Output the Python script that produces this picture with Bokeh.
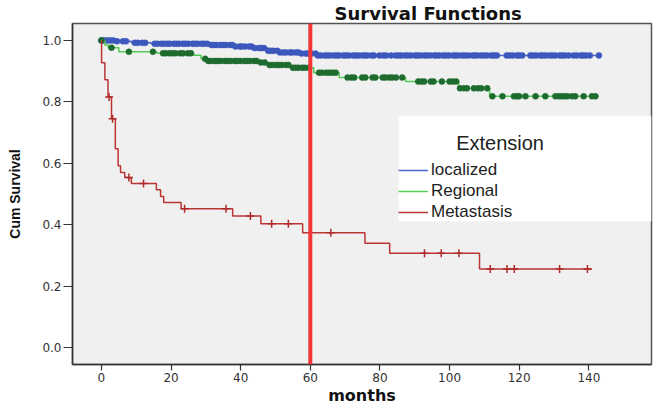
import numpy as np
from bokeh.plotting import figure
from bokeh.models import (Span, BoxAnnotation, Label, Legend, LegendItem, Range1d,
                          FixedTicker, PrintfTickFormatter)
from bokeh.embed import file_html
from bokeh.resources import INLINE

# ---- data ----
x_ticks = [0, 20, 40, 60, 80, 100, 120, 140]
y_ticks = [0.0, 0.2, 0.4, 0.6, 0.8, 1.0]

loc_t = [0, 3.8, 8.6, 14.3, 30.6, 38.0, 44.0, 47.8, 50.6, 57.0, 62.0]
loc_s = [1.0, 0.997, 0.992, 0.989, 0.985, 0.980, 0.975, 0.966, 0.961, 0.957, 0.951]
loc_end = 143.3
loc_cens = [0.0, 0.4, 1.1, 1.9, 2.6, 3.4, 4.5, 6.2, 7.1, 9.6, 10.5, 11.8, 12.6, 15.3, 16.1,
            17.2, 18.0, 18.9, 19.6, 20.8, 21.5, 22.3, 23.4, 24.1, 25.0, 26.2, 26.9, 27.7,
            28.8, 29.5, 30.4, 31.6, 32.3, 33.1, 34.2, 35.0, 35.7, 36.9, 37.6, 38.5, 39.7,
            40.3, 41.2, 42.4, 43.1, 44.0, 45.2, 45.9, 46.7, 47.9, 48.6, 49.4, 50.5, 51.3,
            52.2, 53.0, 54.1, 54.8, 55.9, 56.6, 57.5, 58.7, 59.4, 60.3, 61.5, 62.2, 63.0,
            64.1, 64.9, 65.7, 66.8, 67.6, 68.3, 69.5, 70.2, 71.1, 72.3, 73.0, 73.8, 74.9,
            75.7, 76.4, 77.6, 78.3, 79.9, 81.0, 81.8, 83.2, 84.5, 85.3, 86.1, 87.2, 88.0,
            88.9, 90.1, 90.8, 91.6, 92.7, 93.5, 94.4, 95.6, 96.3, 97.1, 98.2, 99.0, 99.9,
            101.1, 101.8, 102.6, 103.7, 104.5, 105.4, 106.6, 107.3, 108.1, 109.2, 110.0,
            110.9, 112.1, 112.8, 113.6, 116.4, 117.2, 118.1, 119.3, 120.0, 120.9, 123.2,
            124.0, 124.9, 126.1, 126.8, 127.6, 128.7, 129.5, 130.4, 131.6, 132.3, 133.1,
            134.2, 135.6, 136.5, 137.7, 138.4, 139.2, 140.3, 142.9]

reg_t = [0, 1.0, 2.0, 5.0, 16.0, 26.5, 28.6, 30.0, 45.3, 47.8, 54.4, 61.0, 68.3, 87.4, 102.6, 111.5]
reg_s = [1.0, 0.985, 0.976, 0.963, 0.958, 0.952, 0.940, 0.933, 0.928, 0.920, 0.911, 0.895,
         0.879, 0.866, 0.844, 0.818]
reg_end = 142.3
reg_cens = [0.0, 2.9, 7.9, 14.8, 17.7, 18.5, 19.6, 20.4, 21.3, 22.6, 23.4, 24.8, 25.7, 29.8,
            30.7, 31.5, 32.6, 33.4, 34.3, 35.5, 36.2, 37.1, 38.3, 39.0, 39.9, 41.1, 41.8,
            42.7, 43.9, 44.6, 45.8, 46.9, 48.3, 49.1, 50.2, 51.0, 51.8, 53.0, 53.7, 55.0,
            55.8, 56.6, 57.7, 58.5, 59.6, 62.5, 63.4, 64.6, 65.5, 66.4, 67.3, 70.7, 71.8,
            72.6, 74.9, 75.8, 77.9, 78.7, 80.8, 81.6, 82.7, 83.5, 84.6, 86.4, 91.0, 91.9,
            92.7, 94.6, 95.4, 97.8, 100.0, 101.0, 101.9, 103.0, 104.1, 105.0, 107.0, 108.2,
            109.1, 110.8, 112.3, 115.2, 118.5, 119.3, 120.0, 121.8, 124.7, 127.5, 130.4,
            131.3, 132.2, 133.0, 133.9, 135.2, 136.1, 138.5, 140.9, 141.9]

met_t = [0, 0.05, 1.0, 1.9, 2.9, 4.0, 4.8, 5.5, 6.7, 8.6, 15.8, 17.0, 17.9, 22.9, 37.7,
         45.8, 57.8, 75.7, 82.8, 108.6]
met_s = [1.0, 0.927, 0.872, 0.816, 0.745, 0.647, 0.592, 0.570, 0.554, 0.534, 0.514, 0.492,
         0.472, 0.452, 0.428, 0.403, 0.374, 0.340, 0.307, 0.256]
met_end = 140.9
met_cens = [2.2, 3.2, 7.9, 12.1, 23.9, 35.8, 42.8, 48.9, 53.7, 65.9, 92.8, 97.6, 102.7,
            111.7, 116.5, 118.6, 131.6, 139.6]

groups = ["localized", "Regional", "Metastasis"]


def step_xy(t, s, end):
    return list(t) + [end], list(s) + [s[-1]]


def cens_y(t, s, c):
    idx = np.searchsorted(np.array(t), np.array(c), side="right") - 1
    return list(np.array(s)[idx])


p = figure(width=659, height=408, output_backend="svg", toolbar_location=None,
           x_range=Range1d(-8.3, 158), y_range=Range1d(-0.055, 1.055),
           min_border_left=72, min_border_right=8, min_border_top=23, min_border_bottom=44,
           background_fill_color="#f0f0f0", border_fill_color="white")
p.outline_line_color = "#555555"
p.outline_line_width = 1.5
p.xgrid.visible = False
p.ygrid.visible = False

p.title.text = "Survival Functions"
p.title.align = "left"
p.title.offset = 262
p.title.text_font = "DejaVu Sans"
p.title.text_font_size = "18px"
p.title.text_font_style = "bold"
p.title.text_color = "#111111"
p.title.standoff = 0

for ax in (p.xaxis[0], p.yaxis[0]):
    ax.axis_line_color = "#333333"
    ax.axis_line_width = 1.5
    ax.major_tick_line_color = "#333333"
    ax.major_tick_line_width = 1.2
    ax.major_tick_in = 0
    ax.minor_tick_line_color = None
    ax.major_label_text_font = "DejaVu Sans"
    ax.major_label_text_font_size = "12px"
    ax.major_label_text_color = "#333333"
    ax.axis_label_text_font_style = "bold"
    ax.axis_label_text_color = "#111111"

p.xaxis.ticker = FixedTicker(ticks=x_ticks)
p.yaxis.ticker = FixedTicker(ticks=y_ticks)
p.yaxis.formatter = PrintfTickFormatter(format="%.1f")
p.xaxis.major_tick_out = 6
p.yaxis.major_tick_out = 9
p.xaxis.major_label_standoff = 2
p.yaxis.major_label_standoff = 2
p.xaxis.axis_label = "months"
p.xaxis.axis_label_text_font = "DejaVu Sans"
p.xaxis.axis_label_text_font_size = "16px"
p.xaxis.axis_label_standoff = 1
p.yaxis.axis_label = "Cum Survival"
p.yaxis.axis_label_text_font = "Liberation Sans"
p.yaxis.axis_label_text_font_size = "14px"
p.yaxis.axis_label_standoff = 16

specs = [
    (loc_t, loc_s, loc_end, loc_cens, "#4a68cc", "#3c58bc"),
    (reg_t, reg_s, reg_end, reg_cens, "#55cc55", "#1e6b2e"),
    (met_t, met_s, met_end, met_cens, "#bb3535", "#b02a2a"),
]
renderers = []
for i, (t, s, end, c, lc, mc) in enumerate(specs):
    xs, ys = step_xy(t, s, end)
    r = p.step(xs, ys, mode="after", line_color=lc, line_width=1.5)
    renderers.append(r)
    cy = cens_y(t, s, c)
    if i < 2:
        p.scatter(c, cy, marker="circle", size=6, fill_color=mc,
                  line_color=mc, line_width=0.5)
    else:
        p.scatter(c, cy, marker="cross", size=8, line_color=mc, line_width=1.5)

p.add_layout(Span(location=60, dimension="height", line_color="#f23535", line_width=4))

box = BoxAnnotation(left=85.4, right=158, bottom=0.411, top=0.753, fill_color="white",
                    fill_alpha=1.0, line_alpha=0)
p.add_layout(box)
p.add_layout(Label(x=114.5, y=0.665, text="Extension", text_align="center",
                   text_baseline="middle", text_font="Liberation Sans",
                   text_font_size="20px", text_color="#222222"))

legend = Legend(items=[LegendItem(label=g, renderers=[r]) for g, r in zip(groups, renderers)],
                location=(326, 142), background_fill_alpha=0, border_line_alpha=0,
                padding=0, margin=0, spacing=1, glyph_width=30, glyph_height=18,
                label_height=18, label_standoff=3, label_text_font="Liberation Sans",
                label_text_font_size="17px", label_text_color="#222222")
p.add_layout(legend, "center")

open("out.html", "w").write(file_html(p, INLINE))
